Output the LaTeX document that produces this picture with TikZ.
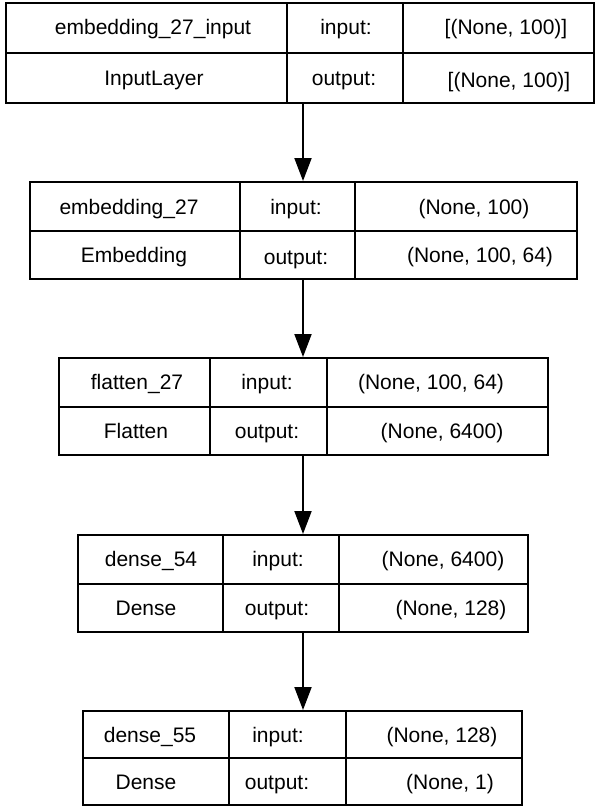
\documentclass[tikz,border=0pt]{standalone}
\usepackage{fontspec}
\setmainfont{Liberation Sans}
\usetikzlibrary{arrows.meta,fit}

\begin{document}
\begin{tikzpicture}[x=1pt,y=-1pt,
	layer/.style={draw, line width=2pt, inner sep=0pt},
	sep/.style={line width=2pt},
	lbl/.style={anchor=base, inner sep=0pt, font=\fontsize{21}{25}\selectfont},
	flow/.style={line width=2pt, -{Triangle[width=17pt,length=23pt]}}]
	\useasboundingbox (0,0) rectangle (596,808);
	\coordinate (axis) at (303,0);
	% layer boxes
	\node[layer, fit={(6,3) (594,103)}] (L1) {};
	\node[layer, fit={(30,182) (577,279)}] (L2) {};
	\node[layer, fit={(59,358) (548,455)}] (L3) {};
	\node[layer, fit={(78,535) (528,632)}] (L4) {};
	\node[layer, fit={(83,711) (522,805)}] (L5) {};
	% cell lines
	\draw[sep] (L1.west) -- (L1.east);
	\draw[sep] (287,3) -- (287,103);
	\draw[sep] (403,3) -- (403,103);
	\draw[sep] (L2.west) -- (L2.east);
	\draw[sep] (240,182) -- (240,279);
	\draw[sep] (355,182) -- (355,279);
	\draw[sep] (L3.west) -- (L3.east);
	\draw[sep] (210,358) -- (210,455);
	\draw[sep] (327,358) -- (327,455);
	\draw[sep] (L4.west) -- (L4.east);
	\draw[sep] (223,535) -- (223,632);
	\draw[sep] (339,535) -- (339,632);
	\draw[sep] (L5.west) -- (L5.east);
	\draw[sep] (229,711) -- (229,805);
	\draw[sep] (346,711) -- (346,805);
	% embedding_27_input
	\node[lbl] (n1) at (153,35) {embedding\_27\_input};
	\node[lbl] (i1) at (346,35) {input:};
	\node[lbl] (iv1) at (506,35) {[(None, 100)]};
	\node[lbl] (t1) at (154,85) {InputLayer};
	\node[lbl] (o1) at (344,85) {output:};
	\node[lbl] (ov1) at (509,88) {[(None, 100)]};
	% embedding_27
	\node[lbl] (n2) at (129,214) {embedding\_27};
	\node[lbl] (i2) at (296,214) {input:};
	\node[lbl] (iv2) at (474,214) {(None, 100)};
	\node[lbl] (t2) at (134,262) {Embedding};
	\node[lbl] (o2) at (296,264) {output:};
	\node[lbl] (ov2) at (480,262) {(None, 100, 64)};
	% flatten_27
	\node[lbl] (n3) at (137,389) {flatten\_27};
	\node[lbl] (i3) at (267,389) {input:};
	\node[lbl] (iv3) at (431,389) {(None, 100, 64)};
	\node[lbl] (t3) at (136,438) {Flatten};
	\node[lbl] (o3) at (267,438) {output:};
	\node[lbl] (ov3) at (442,438) {(None, 6400)};
	% dense_54
	\node[lbl] (n4) at (151,566) {dense\_54};
	\node[lbl] (i4) at (278,566) {input:};
	\node[lbl] (iv4) at (443,566) {(None, 6400)};
	\node[lbl] (t4) at (146,615) {Dense};
	\node[lbl] (o4) at (277,615) {output:};
	\node[lbl] (ov4) at (451,615) {(None, 128)};
	% dense_55
	\node[lbl] (n5) at (150,742) {dense\_55};
	\node[lbl] (i5) at (278,742) {input:};
	\node[lbl] (iv5) at (442,742) {(None, 128)};
	\node[lbl] (t5) at (146,789) {Dense};
	\node[lbl] (o5) at (277,789) {output:};
	\node[lbl] (ov5) at (450,789) {(None, 1)};
	% arrows
	\draw[flow] (L1.south -| axis) -- (L2.north -| axis);
	\draw[flow] (L2.south -| axis) -- (L3.north -| axis);
	\draw[flow] (L3.south -| axis) -- (L4.north -| axis);
	\draw[flow] (L4.south -| axis) -- (L5.north -| axis);
\end{tikzpicture}
\end{document}
